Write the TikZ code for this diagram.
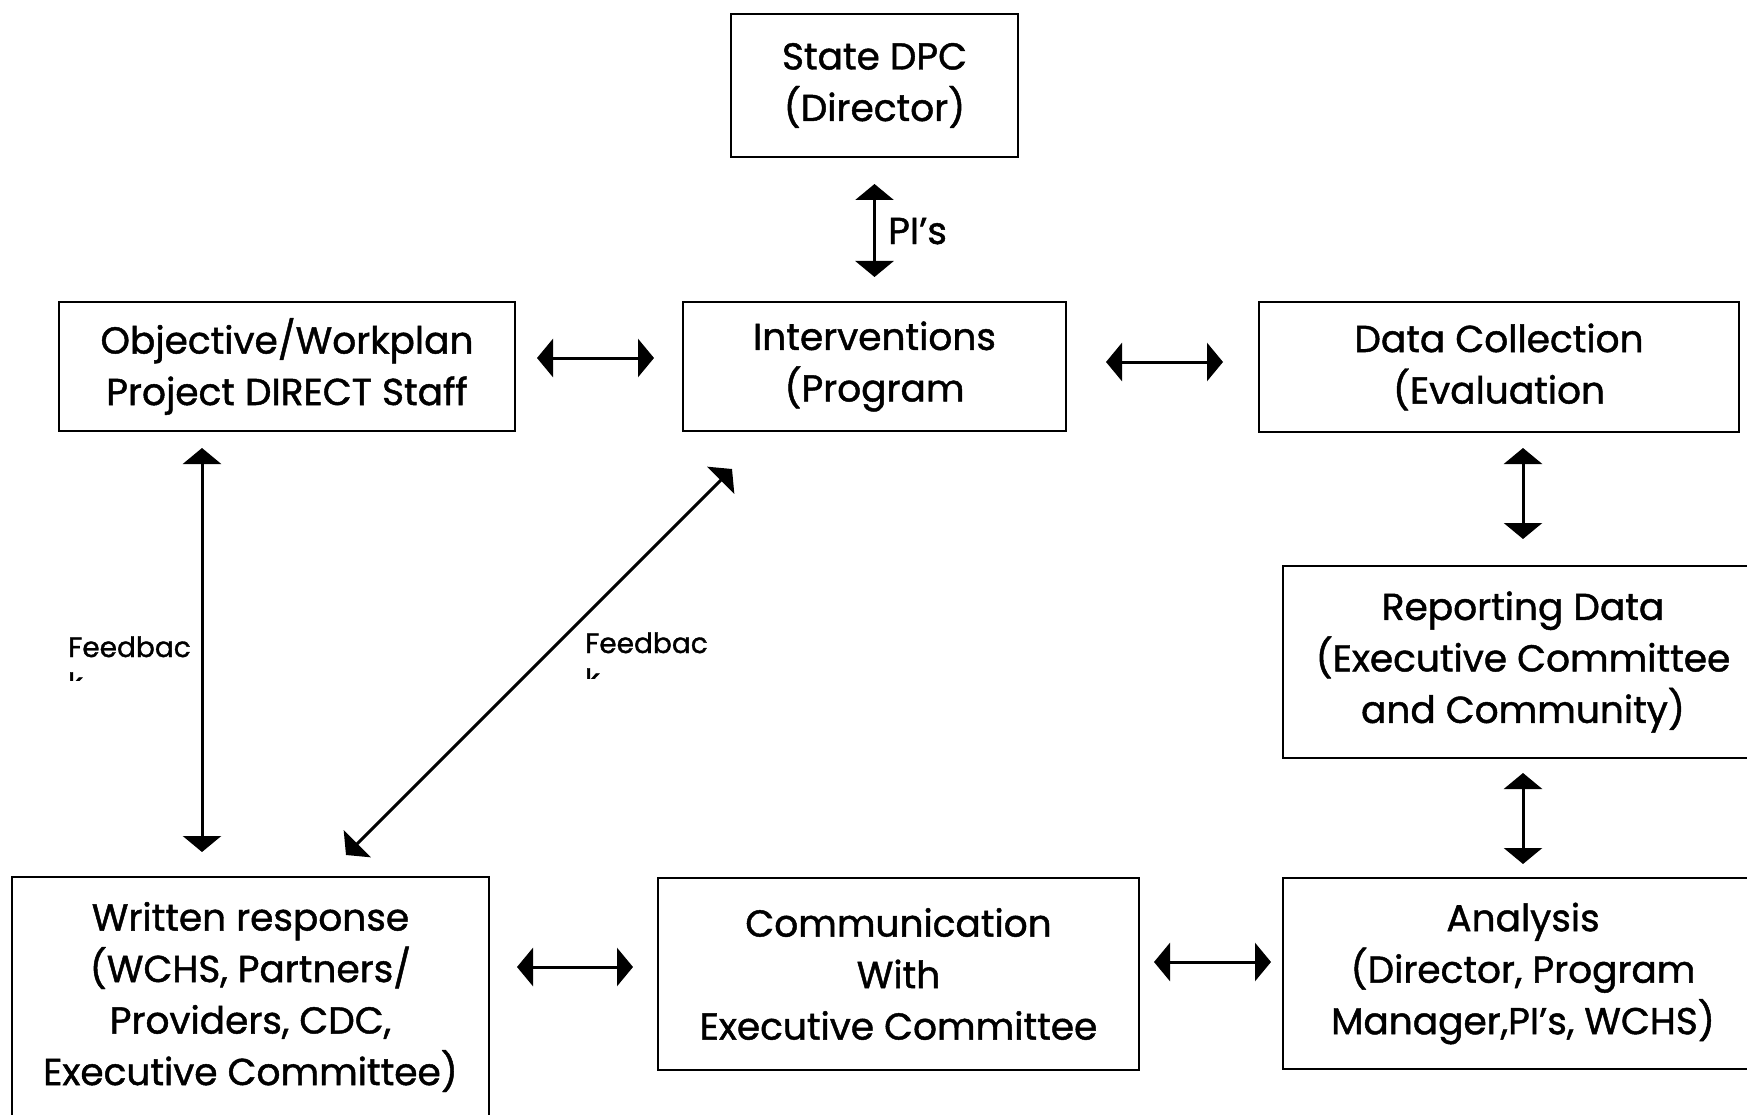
\documentclass[tikz,border=0pt]{standalone}
\usepackage{fontspec}
\setmainfont{Poppins}[FakeBold=1.2]
\usetikzlibrary{arrows.meta,calc}
\tikzset{
  box/.style={draw=black, line width=2pt, inner sep=0pt, align=center, font=\fontsize{37.5}{51.5}\selectfont},
  conn/.style={line width=3pt, {Triangle[width=38pt,length=16pt]}-{Triangle[width=38pt,length=16pt]}},
  fb/.style={inner sep=0pt, font=\fontsize{28}{34}\selectfont},
  lbl/.style={inner sep=0pt, font=\fontsize{37.5}{51.5}\selectfont}
}
\begin{document}
\begin{tikzpicture}[x=1pt,y=-1pt]
\useasboundingbox (0,0) rectangle (1747,1115);
\fill[white] (0,0) rectangle (1747,1115);
\clip (0,0) rectangle (1747,1115);
\node[box, minimum width=287pt, minimum height=143pt] (dpc) at (874.5,85.5) {State DPC\\(Director)};
\node[box, minimum width=456pt, minimum height=129pt] (obj) at (287,366.5) {Objective/Workplan\\Project DIRECT Staff};
\node[box, minimum width=383pt, minimum height=129pt] (int) at (874.5,366.5) {Interventions\\(Program};
\node[box, minimum width=480pt, minimum height=130pt] (data) at (1499,367) {Data Collection\\(Evaluation};
\node[box, minimum width=480pt, minimum height=192pt] (rep) at (1523,662) {Reporting Data\\(Executive Committee\\and Community)};
\node[box, minimum width=480pt, minimum height=191pt] (ana) at (1523,973.5) {Analysis\\(Director, Program\\Manager,PI’s, WCHS)};
\node[box, minimum width=481pt, minimum height=192pt] (comm) at (898.5,974) {Communication\\With\\Executive Committee};
\node[box, minimum width=477pt, minimum height=240pt] (wr) at (250.5,997) {Written response\\(WCHS, Partners/\\Providers, CDC,\\Executive Committee)};

\draw[conn, shorten <=26pt, shorten >=24pt] (dpc.south) -- (int.north);
\node[lbl, anchor=base west] (pis) at (888,244) {PI’s};
\draw[conn, shorten <=21pt, shorten >=28pt] ([yshift=8.5pt]obj.east) -- ([yshift=8.5pt]int.west);
\draw[conn, shorten <=39pt, shorten >=35pt] ([yshift=4.5pt]int.east) -- ([yshift=4.5pt]int.east -| data.west);
\draw[conn, shorten <=15pt, shorten >=26pt] (data.south -| rep.north) -- (rep.north);
\draw[conn, shorten <=14pt, shorten >=13pt] (rep.south) -- (ana.north);
\draw[conn, shorten <=16pt, shorten >=24pt] ([xshift=144pt]obj.south west) -- ([xshift=191pt]wr.north west);
\draw[conn] ([xshift=50pt,yshift=-37pt]int.south west) -- ([xshift=335pt,yshift=21pt]wr.north west);
\draw[conn, shorten <=27pt, shorten >=24pt] ([yshift=7pt]wr.east |- comm.west) -- ([yshift=7pt]comm.west);
\draw[conn, shorten <=14pt, shorten >=11pt] ([yshift=12pt]comm.east) -- ([yshift=12pt]comm.east -| ana.west);

\node[fb, anchor=base west] (fb1) at (68,657) {Feedbac};
\begin{scope}
\clip (60,660) rectangle (120,680);
\node[fb, anchor=base west] (fb1k) at (68,693) {k};
\end{scope}
\node[fb, anchor=base west] (fb2) at (585,653) {Feedbac};
\begin{scope}
\clip (575,660) rectangle (640,678);
\node[fb, anchor=base west] (fb2k) at (585,689) {k};
\end{scope}
\end{tikzpicture}
\end{document}
